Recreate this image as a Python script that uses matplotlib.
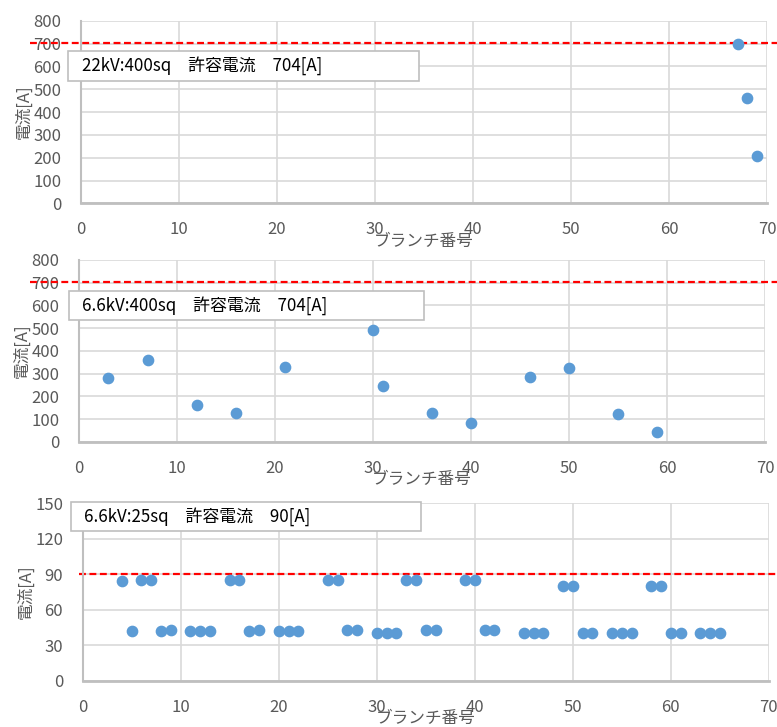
import matplotlib
matplotlib.use("Agg")
import matplotlib.pyplot as plt
from matplotlib.patches import Rectangle

plt.rcParams['font.family'] = ['Noto Sans CJK JP', 'DejaVu Sans']

# 22kV 400sq
b1 = [67, 68, 69]
i1 = [700, 462, 206]
# 6.6kV 400sq
b2 = [3, 7, 12, 16, 21, 30, 31, 36, 40, 46, 50, 55, 59]
i2 = [282, 361, 162, 128, 330, 492, 245, 128, 82, 285, 324, 123, 43]
# 6.6kV 25sq
b3 = [4, 5, 6, 7, 8, 9, 11, 12, 13, 15, 16, 17, 18, 20, 21, 22, 25, 26, 27, 28,
      30, 31, 32, 33, 34, 35, 36, 39, 40, 41, 42, 45, 46, 47, 49, 50, 51, 52,
      54, 55, 56, 58, 59, 60, 61, 63, 64, 65]
i3 = [84, 42, 85, 85, 42, 43, 42, 42, 42, 85, 85, 42, 43, 42, 42, 42, 85, 85, 43, 43,
      40.5, 40.5, 40.5, 85, 85, 43, 43, 85, 85, 43, 43, 40.5, 40.5, 40.5, 80, 80, 40, 40,
      40.5, 40.5, 40.5, 80, 80, 40, 40, 40.5, 40.5, 40.5]

labels = ['22kV:400sq　許容電流　704[A]',
          '6.6kV:400sq　許容電流　704[A]',
          '6.6kV:25sq　許容電流　90[A]']
limits = [704, 704, 90]
yticks_list = [list(range(0, 801, 100)), list(range(0, 801, 100)), list(range(0, 151, 30))]

# axes rects in figure fraction
rects = [[0.1042, 0.7203, 0.883, 0.2512],
         [0.1017, 0.3924, 0.883, 0.2500],
         [0.1064, 0.0637, 0.883, 0.2440]]
# label box (x0, x1, ybottom, ytop) and text pos in axes coords
boxes = [(-0.0185, 0.4927, 0.669, 0.834, 0.001, 0.752),
         (-0.0146, 0.503, 0.668, 0.831, 0.005, 0.749),
         (-0.0175, 0.4936, 0.8455, 1.0056, 0.002, 0.926)]
dash_x0 = [-0.075, -0.072, -0.005]

gray = '#595959'
grid = '#D9D9D9'
dot = '#5B9BD5'

fig = plt.figure(figsize=(7.77, 7.27), dpi=100)
data = [(b1, i1), (b2, i2), (b3, i3)]
for k in range(3):
    ax = fig.add_axes(rects[k])
    x, y = data[k]
    yt = yticks_list[k]
    ax.set_xlim(0, 70)
    ax.set_ylim(yt[0], yt[-1])
    ax.set_xticks(range(0, 71, 10))
    ax.set_yticks(yt)
    ax.grid(True, color=grid, linewidth=1.2, zorder=0)
    ax.set_axisbelow(True)
    for s in ['top', 'right']:
        ax.spines[s].set_visible(False)
    ax.spines['left'].set_color('#BFBFBF')
    ax.spines['left'].set_linewidth(1.5)
    ax.spines['bottom'].set_color('#BFBFBF')
    ax.spines['bottom'].set_linewidth(2)
    ax.tick_params(axis='both', length=0, labelsize=12, labelcolor=gray)
    ax.tick_params(axis='x', pad=13)
    ax.tick_params(axis='y', pad=14)

    ax.plot(x, y, 'o', color=dot, markersize=7.4, zorder=3, clip_on=False)

    # limit line
    ax.plot([dash_x0[k], 1.02], [limits[k], limits[k]], color='#FF0000',
            linestyle=(0, (3.1, 1.6)), linewidth=1.6,
            transform=ax.get_yaxis_transform(), clip_on=False, zorder=2)

    x0, x1, yb, ytp, tx, ty = boxes[k]
    ax.add_patch(Rectangle((x0, yb), x1 - x0, ytp - yb, transform=ax.transAxes,
                           facecolor='white', edgecolor='#BFBFBF', linewidth=1.2,
                           clip_on=False, zorder=4))
    ax.text(tx, ty, labels[k], transform=ax.transAxes, fontsize=12.2,
            color='black', ha='left', va='center', zorder=5)

    ax.set_xlabel('ブランチ番号', fontsize=12, color=gray)
    ax.xaxis.set_label_coords(0.5, -38.0 / (rects[k][3] * 727))
    ax.xaxis.label.set_va('center')
    ax.set_ylabel('電流[A]', fontsize=12, color=gray)
    ax.yaxis.set_label_coords(-0.083, 0.5)
    ax.yaxis.label.set_va('center')

fig.savefig('out.png', dpi=100)
